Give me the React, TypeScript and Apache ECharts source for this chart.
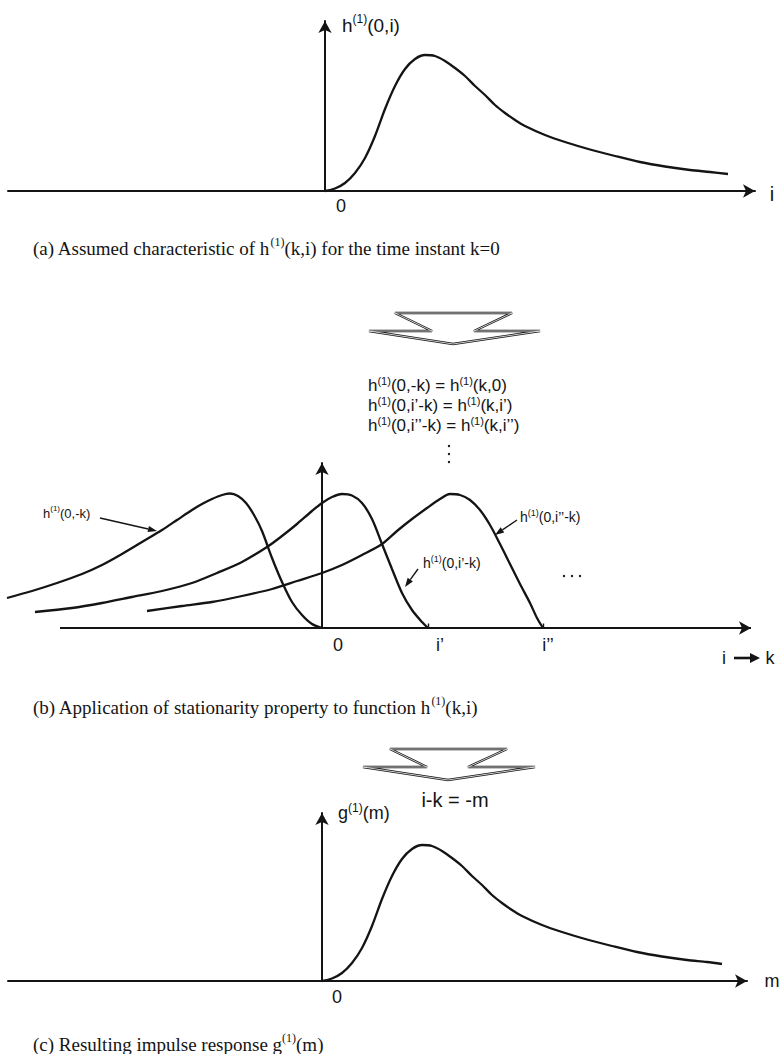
import React, { useEffect, useRef } from "react";
import * as echarts from "echarts";

const INK = "#141414";
const SANS = "'Liberation Sans', Arial, sans-serif";
const SERIF = "'Liberation Serif', 'Times New Roman', serif";

// (a) assumed characteristic h(1)(0,i) over i
const iA = [0, 1, 2, 3, 4, 5, 6, 7, 8, 9, 10, 11, 12, 13, 14, 15, 16, 17, 18, 19, 20, 22, 24, 26.5, 29, 31.5, 34, 36.5, 38.5, 40.3];
const hA = [0, 0.25, 0.8, 1.8, 3.3, 5.5, 8.2, 10.5, 12.2, 13.2, 13.6, 13.5, 13.0, 12.3, 11.5, 10.5, 9.6, 8.6, 7.8, 7.1, 6.5, 5.6, 4.9, 4.15, 3.5, 2.9, 2.45, 2.1, 1.9, 1.7];

// (b) h(1)(0,-k)
const kB0 = [-31.5, -29, -26.5, -24, -22, -20, -18, -16, -14.5, -13, -12, -11, -10, -9.2, -8.4, -7.6, -6.8, -6, -5, -4, -3, -2, -1, 0];
const hB0 = [3.0, 3.7, 4.5, 5.4, 6.3, 7.4, 8.6, 9.8, 10.8, 11.8, 12.4, 12.9, 13.3, 13.45, 13.2, 12.5, 11.3, 9.7, 7.0, 4.6, 2.6, 1.3, 0.4, 0];
// (b) h(1)(0,i'-k)
const kB1 = [-28.7, -25, -22, -19, -16, -13, -10.5, -8, -5.5, -4, -2.5, -1, 0, 1, 2, 3, 4, 5, 6, 7, 8, 9, 10, 10.6];
const hB1 = [1.6, 2.0, 2.5, 3.1, 3.7, 4.5, 5.5, 6.6, 8.1, 9.2, 10.4, 11.7, 12.5, 13.1, 13.4, 13.25, 12.5, 10.9, 8.4, 5.9, 3.5, 1.8, 0.6, 0];
// (b) h(1)(0,i''-k)
const kB2 = [-17.5, -14, -11, -8, -5, -2.5, 0, 2, 4, 6, 7.5, 9, 10.5, 11.8, 12.8, 13.8, 14.8, 15.8, 16.8, 17.8, 18.8, 19.8, 20.8, 21.5, 22.1];
const hB2 = [1.7, 2.2, 2.6, 3.2, 3.9, 4.7, 5.5, 6.3, 7.3, 8.4, 9.7, 10.9, 12.0, 12.9, 13.4, 13.3, 12.8, 11.8, 10.3, 8.4, 6.4, 4.4, 2.5, 1.0, 0];

// (c) resulting impulse response g(1)(m)
const mC = [0, 1, 2, 3, 4, 5, 6, 7, 8, 9, 10, 11, 12, 13, 14, 15, 16, 17, 18, 19, 20, 22, 24, 26.5, 29, 31.5, 34, 36.5, 38.5, 40.0];
const gC = [0, 0.25, 0.8, 1.8, 3.3, 5.5, 8.2, 10.5, 12.2, 13.2, 13.6, 13.5, 13.0, 12.3, 11.5, 10.5, 9.6, 8.6, 7.8, 7.1, 6.5, 5.6, 4.9, 4.15, 3.5, 2.9, 2.45, 2.1, 1.9, 1.7];

// positions of i' and i'' on the k axis of (b)
const primeTicks = [10.6, 22.1];
const primeNames = ["i’", "i’’"];

const UNIT = 10; // pixels per axis unit

// pixel frame of each panel: origin column, grid extent, drawn baseline extent, baseline and top of the vertical axis
const frames = [
  { originX: 325, gridX0: 8, lineX0: 8, endX: 755, baseY: 191, topY: 21 },
  { originX: 322, gridX0: 0, lineX0: 60, endX: 751, baseY: 628, topY: 463 },
  { originX: 322, gridX0: 8, lineX0: 8, endX: 747, baseY: 981, topY: 813 },
];

const zip = (xs: number[], ys: number[]) => xs.map((x, i) => [x, ys[i]]);

const richStyle = (size: number, family: string, lh: number) => ({
  n: { fontSize: size, fontFamily: family, fill: INK, lineHeight: lh, verticalAlign: "middle" },
  s: {
    fontSize: Math.round(size * 0.64),
    fontFamily: family,
    fill: INK,
    lineHeight: Math.round(size * 0.64),
    verticalAlign: "top",
  },
});

function label(text: string, x: number, y: number, size: number, family = SANS, align = "left", lh = Math.round(size * 1.3)) {
  return {
    type: "text",
    silent: true,
    style: {
      text,
      x,
      y,
      align,
      verticalAlign: "middle",
      fill: INK,
      fontSize: size,
      fontFamily: family,
      rich: richStyle(size, family, lh),
    },
  };
}

function pointer(x1: number, y1: number, x2: number, y2: number, width = 1.4, len = 9, half = 3.2) {
  const a = Math.atan2(y2 - y1, x2 - x1);
  const bx = x2 - len * Math.cos(a);
  const by = y2 - len * Math.sin(a);
  const px = -Math.sin(a) * half;
  const py = Math.cos(a) * half;
  return [
    { type: "line", silent: true, shape: { x1, y1, x2: bx, y2: by }, style: { stroke: INK, lineWidth: width } },
    {
      type: "polygon",
      silent: true,
      shape: { points: [[x2, y2], [bx + px, by + py], [bx - px, by - py]] },
      style: { fill: INK },
    },
  ];
}

// wide outlined chevron pointing down, drawn with a double stroke
function chevron(pts: number[][]) {
  return [
    { type: "polygon", silent: true, shape: { points: pts }, style: { fill: "#fff", stroke: INK, lineWidth: 2.4, lineJoin: "miter" } },
    { type: "polygon", silent: true, shape: { points: pts }, style: { fill: "none", stroke: "#fff", lineWidth: 0.8, lineJoin: "miter" } },
  ];
}

function dot(x: number, y: number) {
  return { type: "circle", silent: true, shape: { cx: x, cy: y, r: 1.2 }, style: { fill: INK } };
}

function buildOption() {
  const arrowLine = (show: boolean) => ({
    show,
    onZero: true,
    symbol: ["none", "arrow"],
    symbolSize: [10, 12],
    lineStyle: { color: INK, width: 2 },
  });
  const grids = frames.map((f) => ({
    left: f.gridX0,
    top: f.topY,
    width: f.endX - f.gridX0,
    height: f.baseY - f.topY,
    containLabel: false,
  }));
  const xAxes = frames.map((f, idx) => ({
    type: "value",
    gridIndex: idx,
    min: (f.gridX0 - f.originX) / UNIT,
    max: (f.endX - f.originX) / UNIT,
    axisLine: arrowLine(f.gridX0 === f.lineX0),
    axisTick: { show: false },
    axisLabel: { show: false },
    splitLine: { show: false },
  }));
  const yAxes = frames.map((f, idx) => ({
    type: "value",
    gridIndex: idx,
    min: 0,
    max: (f.baseY - f.topY) / UNIT,
    axisLine: arrowLine(true),
    axisTick: { show: false },
    axisLabel: { show: false },
    splitLine: { show: false },
  }));

  const curve = (idx: number, xs: number[], ys: number[], extra: any = {}) => ({
    type: "line",
    xAxisIndex: idx,
    yAxisIndex: idx,
    data: zip(xs, ys),
    smooth: 0.3,
    showSymbol: false,
    clip: false,
    silent: true,
    lineStyle: { color: INK, width: 2.3 },
    ...extra,
  });

  // baseline of (b), started right of the grid edge so the curve tails can run past it,
  // plus the small ticks at i' and i''
  const fb = frames[1];
  const kBase: any = {
    markLine: {
      silent: true,
      animation: false,
      symbol: ["none", "none"],
      label: { show: false },
      lineStyle: { color: INK, width: 2, type: "solid" },
      emphasis: { disabled: true },
      data: [
        [
          { coord: [(fb.lineX0 - fb.originX) / UNIT, 0], symbol: "none" },
          { coord: [(fb.endX - fb.originX) / UNIT, 0], symbol: "arrow", symbolSize: [10, 12] },
        ],
        ...primeTicks.map((t) => [
          { coord: [t, 0], lineStyle: { width: 1.4 } },
          { coord: [t, 0.45] },
        ]),
      ],
    },
  };

  const eqText =
    "{n|h}{s|(1)}{n|(0,-k) = h}{s|(1)}{n|(k,0)}\n" +
    "{n|h}{s|(1)}{n|(0,i’-k) = h}{s|(1)}{n|(k,i’)}\n" +
    "{n|h}{s|(1)}{n|(0,i’’-k) = h}{s|(1)}{n|(k,i’’)}";

  const graphics: any[] = [
    // (a)
    label("{n|h}{s|(1)}{n|(0,i)}", 342, 25, 19),
    label("0", 341, 206, 18, SANS, "center"),
    label("i", 772, 194, 20, SANS, "center"),
    label("{n|(a) Assumed characteristic of h}{s|(1)}{n|(k,i) for the time instant k=0}", 33, 248, 19, SERIF),

    // (b)
    ...chevron([[395, 313], [512, 313], [474, 331], [540, 331], [453, 344], [369, 331], [432, 331]]),
    label(eqText, 368, 405, 17, SANS, "left", 20),
    dot(449, 446),
    dot(449, 454),
    dot(449, 462),
    label("{n|h}{s|(1)}{n|(0,-k)}", 43, 513, 13),
    ...pointer(100, 518, 157, 531),
    label("{n|h}{s|(1)}{n|(0,i’’-k)}", 520, 517, 14),
    ...pointer(517, 520, 495, 535),
    label("{n|h}{s|(1)}{n|(0,i’-k)}", 423, 563, 14),
    ...pointer(418, 569, 405, 587),
    dot(564, 576),
    dot(572, 576),
    dot(580, 576),
    label("0", 338, 645, 18, SANS, "center"),
    label(primeNames[0], 440, 645, 18, SANS, "center"),
    label(primeNames[1], 548, 645, 18, SANS, "center"),
    label("i", 724, 658, 18, SANS, "center"),
    ...pointer(734, 658, 760, 658, 2.6, 10, 5),
    label("k", 770, 658, 18, SANS, "center"),
    label("{n|(b) Application of stationarity property to function h}{s|(1)}{n|(k,i)}", 33, 707, 19, SERIF),

    // (c)
    ...chevron([[390, 749], [507, 749], [468, 767], [535, 767], [448, 780], [363, 767], [427, 767]]),
    label("i-k = -m", 455, 800, 20, SANS, "center"),
    label("{n|g}{s|(1)}{n|(m)}", 338, 813, 18),
    label("0", 337, 997, 18, SANS, "center"),
    label("m", 772, 981, 18, SANS, "center"),
    label("{n|(c) Resulting impulse response g}{s|(1)}{n|(m)}", 33, 1044, 19, SERIF),
  ];

  return {
    animation: false,
    backgroundColor: "#fff",
    textStyle: { fontFamily: SANS, color: INK },
    grid: grids,
    xAxis: xAxes,
    yAxis: yAxes,
    series: [
      curve(0, iA, hA),
      curve(1, kB0, hB0, kBase),
      curve(1, kB1, hB1),
      curve(1, kB2, hB2),
      curve(2, mC, gC),
    ],
    graphic: graphics,
  };
}

export default function App() {
  const ref = useRef<HTMLDivElement>(null);
  useEffect(() => {
    document.body.style.margin = "0";
    if (!ref.current) return;
    const chart = echarts.init(ref.current, undefined, { renderer: "svg" });
    chart.setOption(buildOption() as any);
    return () => chart.dispose();
  }, []);
  return <div ref={ref} style={{ width: 783, height: 1054, background: "#fff" }} />;
}
